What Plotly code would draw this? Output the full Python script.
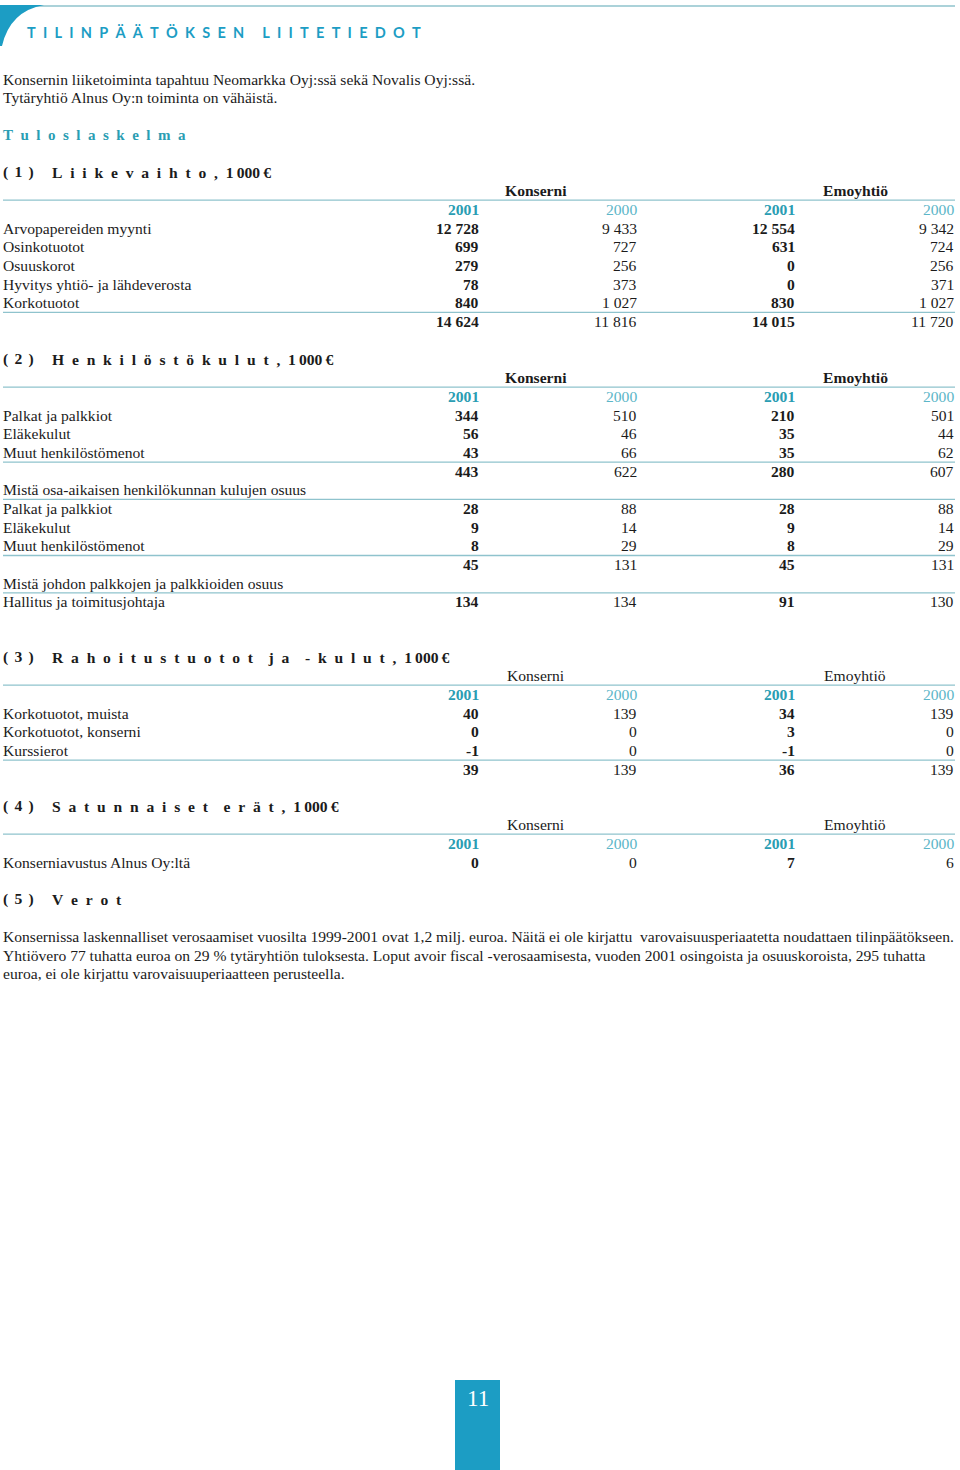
"""Tilinpäätöksen liitetiedot -sivu (s. 11) piirrettynä Plotlyllä."""

import plotly.graph_objects as go

# --- data -------------------------------------------------------------
PAGE_TITLE = "TILINPÄÄTÖKSEN LIITETIEDOT"
INTRO = [
    "Konsernin liiketoiminta tapahtuu Neomarkka Oyj:ssä sekä Novalis Oyj:ssä.",
    "Tytäryhtiö Alnus Oy:n toiminta on vähäistä.",
]
SUBTITLE = "Tuloslaskelma"
GROUPS = ["Konserni", "Emoyhtiö"]
YEARS = ["2001", "2000", "2001", "2000"]

# (1) Liikevaihto
s1_labels = ["Arvopapereiden myynti", "Osinkotuotot", "Osuuskorot",
             "Hyvitys yhtiö- ja lähdeverosta", "Korkotuotot"]
s1_konserni_2001 = [12728, 699, 279, 78, 840]
s1_konserni_2000 = [9433, 727, 256, 373, 1027]
s1_emo_2001 = [12554, 631, 0, 0, 830]
s1_emo_2000 = [9342, 724, 256, 371, 1027]
s1_total = [14624, 11816, 14015, 11720]

# (2) Henkilöstökulut
s2_labels = ["Palkat ja palkkiot", "Eläkekulut", "Muut henkilöstömenot"]
s2_konserni_2001 = [344, 56, 43]
s2_konserni_2000 = [510, 46, 66]
s2_emo_2001 = [210, 35, 35]
s2_emo_2000 = [501, 44, 62]
s2_total = [443, 622, 280, 607]

s2_part_title = "Mistä osa-aikaisen henkilökunnan kulujen osuus"
s2_part_konserni_2001 = [28, 9, 8]
s2_part_konserni_2000 = [88, 14, 29]
s2_part_emo_2001 = [28, 9, 8]
s2_part_emo_2000 = [88, 14, 29]
s2_part_total = [45, 131, 45, 131]

s2_mgmt_title = "Mistä johdon palkkojen ja palkkioiden osuus"
s2_mgmt_labels = ["Hallitus ja toimitusjohtaja"]
s2_mgmt_values = [134, 134, 91, 130]

# (3) Rahoitustuotot ja -kulut
s3_labels = ["Korkotuotot, muista", "Korkotuotot, konserni", "Kurssierot"]
s3_konserni_2001 = [40, 0, -1]
s3_konserni_2000 = [139, 0, 0]
s3_emo_2001 = [34, 3, -1]
s3_emo_2000 = [139, 0, 0]
s3_total = [39, 139, 36, 139]

# (4) Satunnaiset erät
s4_labels = ["Konserniavustus Alnus Oy:ltä"]
s4_values = [0, 0, 7, 6]

# (5) Verot
s5_text = [
    "Konsernissa laskennalliset verosaamiset vuosilta 1999-2001 ovat 1,2 milj. euroa. "
    "Näitä ei ole kirjattu  varovaisuusperiaatetta noudattaen tilinpäätökseen.",
    "Yhtiövero 77 tuhatta euroa on 29 % tytäryhtiön tuloksesta. Loput avoir fiscal "
    "-verosaamisesta, vuoden 2001 osingoista ja osuuskoroista, 295 tuhatta",
    "euroa, ei ole kirjattu varovaisuuperiaatteen perusteella.",
]
PAGE_NO = "11"

# --- tyyli -------------------------------------------------------------
SERIF = "Liberation Serif"
SANS = "Lato"
BODY = 15.6
INK = "#1b1b1b"
TEAL = "#1c9dc4"
TEAL_TXT = "#2a9db3"
TEAL_LIGHT = "#5cb6c8"
RULE = "#8fc3cd"
PITCH = 18.68
LEFT_X = 1
COL_X = [481, 639, 797, 956]
GROUP_X = [536, 855]
EN = "\u2002"
DY = -1  # pieni pystysiirto tekstin perusviivalle

annotations = []
shapes = []


def fmt(v):
    return f"{v:,}".replace(",", "\u00a0")


def text(x, y, s, size=BODY, color=INK, bold=False, anchor="left", font=SERIF):
    if bold:
        s = f"<b>{s}</b>"
    annotations.append(dict(x=x, y=y + DY, xref="x", yref="y", text=s, showarrow=False,
                            xanchor=anchor, yanchor="middle",
                            font=dict(family=font, size=size, color=color)))


def rule(y):
    shapes.append(dict(type="line", xref="x", yref="y", x0=3, x1=955, y0=y, y1=y,
                       line=dict(color=RULE, width=1.3)))


def spaced(word):
    return EN.join(word)


def heading(y, num, words, unit=True):
    text(LEFT_X, y, f"(\u2009\u2009{num}\u2009\u2009)", bold=True)
    s = (EN * 2).join(spaced(w) for w in words.split(" "))
    if unit:
        s += EN + "1\u2009000\u2009€"
    text(50, y, s, bold=True)


def header(y, bold_groups=True):
    for gx, g in zip(GROUP_X, GROUPS):
        text(gx, y, g, anchor="center", bold=bold_groups)
    rule(y + 8.5)
    for cx, yr, i in zip(COL_X, YEARS, range(4)):
        text(cx, y + PITCH, yr, color=TEAL_TXT if i % 2 == 0 else TEAL_LIGHT,
             bold=(i % 2 == 0), anchor="right")


def values_row(y, vals):
    for i, (cx, v) in enumerate(zip(COL_X, vals)):
        text(cx, y, fmt(v), bold=(i % 2 == 0), anchor="right")


def block(y, labels, cols, total=None):
    for r, lab in enumerate(labels):
        yy = y + r * PITCH
        text(LEFT_X, yy, lab)
        values_row(yy, [c[r] for c in cols])
    last = y + (len(labels) - 1) * PITCH
    if total is not None:
        rule(last + 8.7)
        values_row(last + PITCH, total)
    return last + PITCH


# --- sivun yläosa ---------------------------------------------------------
shapes.append(dict(type="line", xref="x", yref="y", x0=0, x1=955, y0=6, y1=6,
                   line=dict(color=RULE, width=1.5)))
shapes.append(dict(type="path", xref="x", yref="y",
                   path="M 0,5 L 44,5 Q 10,11 2,46 L 0,46 Z",
                   fillcolor=TEAL, line=dict(width=0)))
title_txt = (EN * 2 + "\u00a0").join(EN.join(w) for w in PAGE_TITLE.split(" "))
text(25, 33, title_txt, size=14.5, color=TEAL, bold=True, font=SANS)
text(LEFT_X, 80, INTRO[0])
text(LEFT_X, 80 + PITCH, INTRO[1])
text(LEFT_X, 136, spaced(SUBTITLE), size=15, color=TEAL_TXT, bold=True)

# (1)
y0 = 173
heading(y0, 1, "Liikevaihto,")
header(y0 + PITCH)
block(y0 + 3 * PITCH, s1_labels,
      [s1_konserni_2001, s1_konserni_2000, s1_emo_2001, s1_emo_2000], s1_total)

# (2)
y0 = 360
heading(y0, 2, "Henkilöstökulut,")
header(y0 + PITCH)
y = block(y0 + 3 * PITCH, s2_labels,
          [s2_konserni_2001, s2_konserni_2000, s2_emo_2001, s2_emo_2000], s2_total)
y += PITCH
text(LEFT_X, y, s2_part_title)
rule(y + 8.7)
y = block(y + PITCH, s2_labels,
          [s2_part_konserni_2001, s2_part_konserni_2000, s2_part_emo_2001, s2_part_emo_2000],
          s2_part_total)
y += PITCH
text(LEFT_X, y, s2_mgmt_title)
rule(y + 8.7)
block(y + PITCH, s2_mgmt_labels, [[v] for v in s2_mgmt_values])

# (3)
y0 = 658
heading(y0, 3, "Rahoitustuotot ja -kulut,")
header(y0 + PITCH, bold_groups=False)
block(y0 + 3 * PITCH, s3_labels,
      [s3_konserni_2001, s3_konserni_2000, s3_emo_2001, s3_emo_2000], s3_total)

# (4)
y0 = 807
heading(y0, 4, "Satunnaiset erät,")
header(y0 + PITCH, bold_groups=False)
block(y0 + 3 * PITCH, s4_labels, [[v] for v in s4_values])

# (5)
y0 = 900
heading(y0, 5, "Verot", unit=False)
for i, line in enumerate(s5_text):
    text(LEFT_X, y0 + (i + 2) * PITCH, line)

# sivunumero
shapes.append(dict(type="rect", xref="x", yref="y", x0=455, x1=500, y0=1380, y1=1470,
                   fillcolor=TEAL, line=dict(width=0)))
text(478, 1399, PAGE_NO, size=23, color="white", anchor="center")

fig = go.Figure()
fig.update_layout(
    width=960, height=1470,
    margin=dict(l=0, r=0, t=0, b=0),
    paper_bgcolor="white", plot_bgcolor="white",
    xaxis=dict(range=[0, 960], visible=False, fixedrange=True),
    yaxis=dict(range=[1470, 0], visible=False, fixedrange=True),
    annotations=annotations, shapes=shapes, showlegend=False,
)
fig.write_html("out.html", config={"displayModeBar": False},
               post_script="document.body.style.margin='0';")
